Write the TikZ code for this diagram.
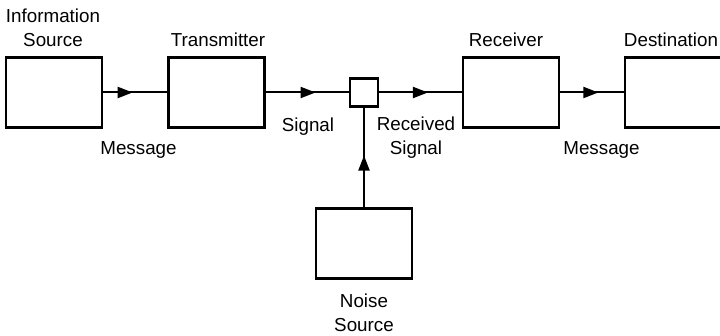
\documentclass[tikz,border=0pt]{standalone}
\usepackage{fontspec}
\setmainfont{Liberation Sans}
\usepackage{tikz}
\usetikzlibrary{positioning}
\usetikzlibrary{arrows.meta,decorations.markings}
\tikzstyle{block}=[rectangle,draw,line width=2.5pt,minimum width=96pt,minimum height=70pt,inner sep=0pt]
\tikzstyle{junction}=[rectangle,draw,line width=2.5pt,minimum size=28pt,inner sep=0pt]
\tikzstyle{link} = [draw,line width=2pt]
\tikzstyle{txt} = [font=\fontsize{18.8}{24}\selectfont,align=center,inner sep=0pt]

\begin{document}
\begin{tikzpicture}[x=1pt,y=1pt]

  \def\yb{243.5};
  \useasboundingbox (0,0) rectangle (720,336);

  % blocks on the channel
  \foreach \x/\name in {54/src, 216.5/tx, 511/rx, 673/dst}
     \node[block] (\name) at (\x, \yb) {};
  \node[junction] (sq) at (364, \yb) {};
  \node[block] (noise) at (364, 92.5) {};

  % names above the blocks
  \foreach \x/\name/\text in {53/srctxt/{Information\\Source}, 218/txtxt/Transmitter, 506/rxtxt/Receiver, 671/dsttxt/Destination}
     \node[txt, anchor=south] (\name) at (\x, 289) {\text};

  % links
  \foreach \source/ \dest /\pos in {src/tx/0.46, tx/sq/0.6, sq/rx/0.59, rx/dst/0.6, noise/sq/0.52}
     \draw[link, postaction={decorate}, decoration={markings, mark=at position \pos with {\arrow{Triangle[length=15pt,width=11pt]}}}] (\source) -- (\dest);

  % signal names
  \node[txt, anchor=base] (msgone) at (138.5, 181) {Message};
  \node[txt, anchor=base] (sigtxt) at (308, 204) {Signal};
  \node[txt, anchor=base] (rcvtxt) at (416, 181) {Received\\Signal};
  \node[txt, anchor=base] (msgtwo) at (601.5, 181) {Message};
  \node[txt, anchor=base] (noisetxt) at (364, 4) {Noise\\Source};

\end{tikzpicture}
\end{document}
